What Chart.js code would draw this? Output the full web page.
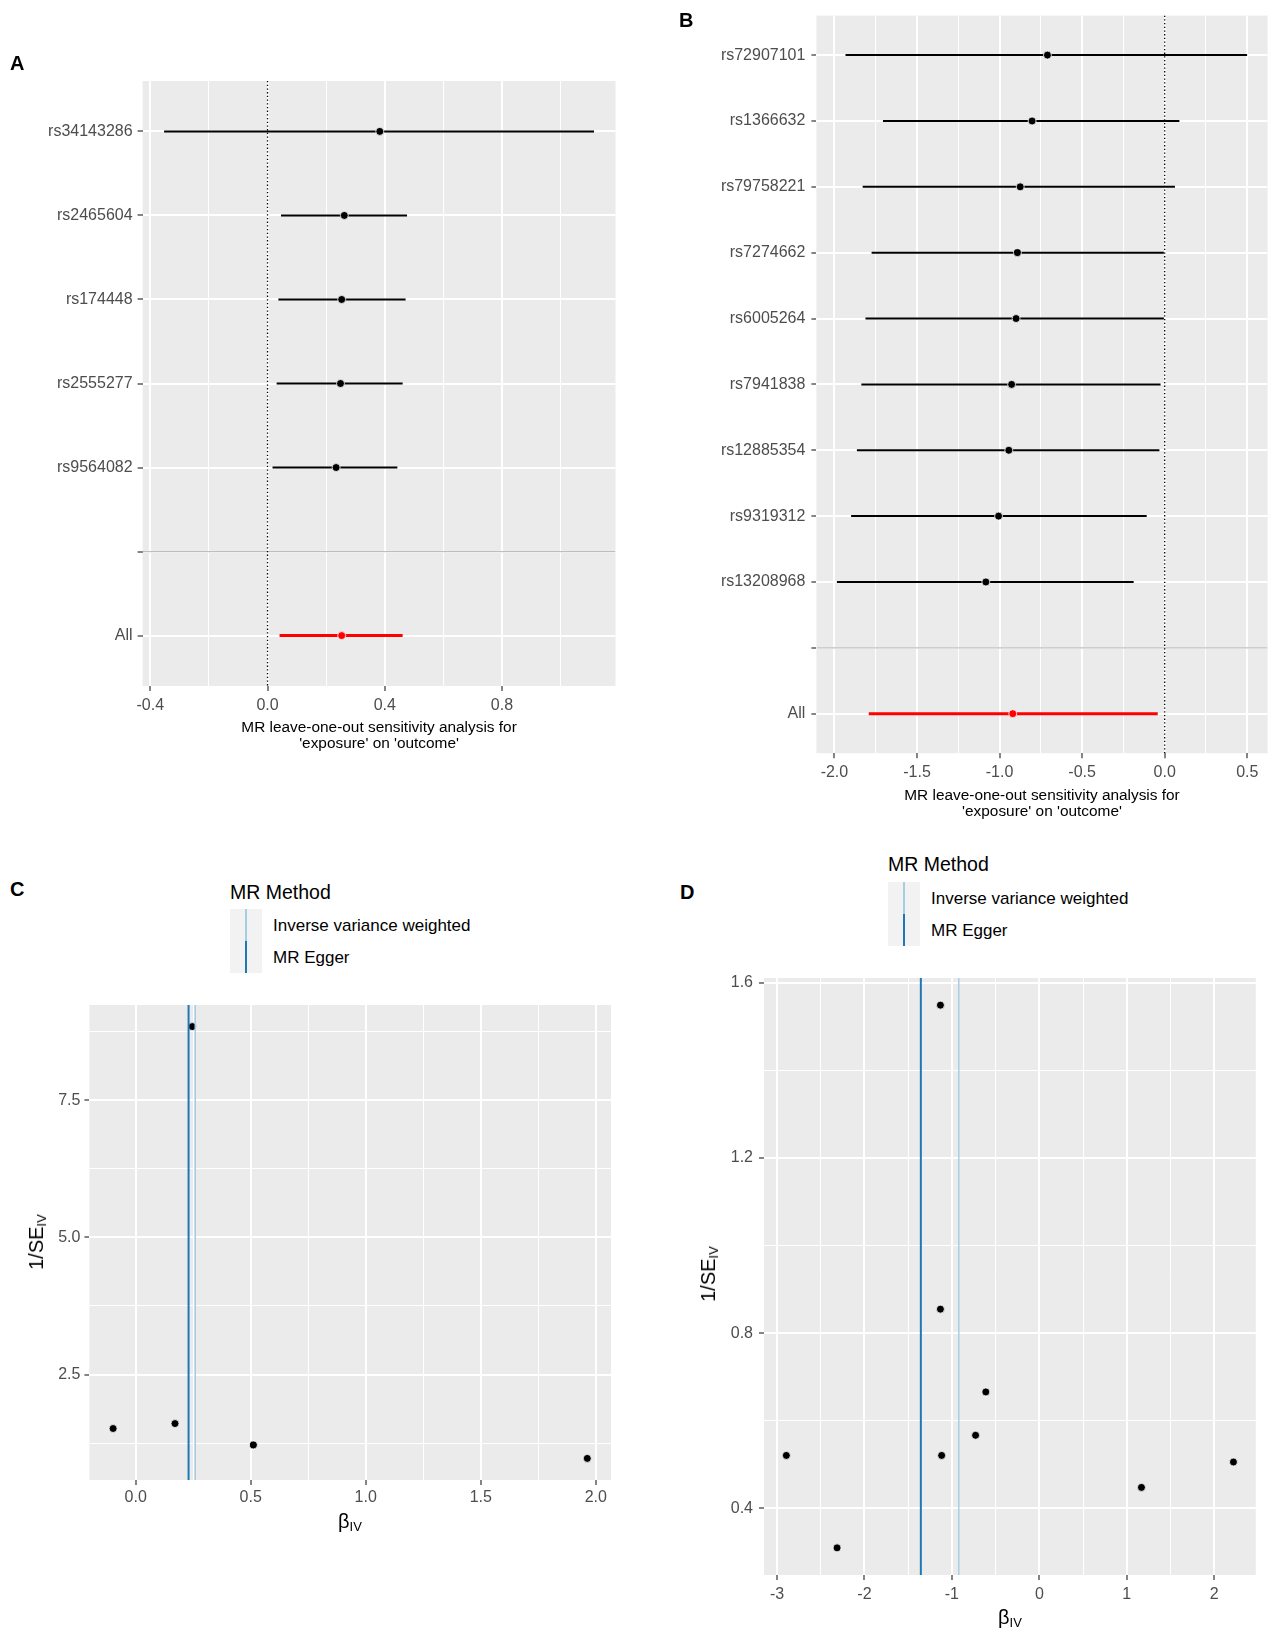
<!DOCTYPE html>
<html lang="en">
<head>
<meta charset="UTF-8">
<title>MR leave-one-out and funnel plots</title>
<script src="https://cdn.jsdelivr.net/npm/chart.js@4"></script>
<style>
    body {
        margin: 0;
        background: #fff;
        font-family: 'Liberation Sans', Arial, sans-serif;
        color: #000;
    }
    #page {
        position: relative;
        width: 1277px;
        height: 1637px;
        overflow: hidden;
    }
    canvas { position: absolute; }
    .tag {
        position: absolute;
        font-weight: bold;
        font-size: 20px;
        line-height: 20px;
    }
    .lgd-title {
        position: absolute;
        font-size: 19.5px;
        line-height: 20px;
        white-space: nowrap;
    }
    .lgd-key {
        position: absolute;
        width: 32px;
        height: 32px;
        background: #f2f2f2;
    }
    .lgd-key span {
        position: absolute;
        left: 15px;
        top: 0;
        bottom: 0;
    }
    .lgd-text {
        position: absolute;
        font-size: 17px;
        line-height: 18px;
        white-space: nowrap;
    }
    .axis-title {
        position: absolute;
        font-size: 20px;
        line-height: 22px;
        white-space: nowrap;
        transform: translate(-50%, -50%);
    }
    .axis-title.rot { transform: translate(-50%, -50%) rotate(-90deg); }
    .axis-title sub { font-size: 13px; vertical-align: -3px; }
</style>
</head>
<body>
<div id="page">
    <canvas id="chartA" width="640" height="780" style="left:0;top:0"></canvas>
    <canvas id="chartB" width="637" height="830" style="left:640px;top:0"></canvas>
    <canvas id="chartC" width="640" height="530" style="left:0;top:990px"></canvas>
    <canvas id="chartD" width="637" height="677" style="left:640px;top:960px"></canvas>

    <div class="tag" style="left:10px;top:53px">A</div>
    <div class="tag" style="left:679px;top:10px">B</div>
    <div class="tag" style="left:10px;top:879px">C</div>
    <div class="tag" style="left:680px;top:882px">D</div>

    <!-- legend C -->
    <div class="lgd-title" style="left:230px;top:882px">MR Method</div>
    <div class="lgd-key" style="left:230px;top:909px"><span style="width:1.5px;background:#a6cee3"></span></div>
    <div class="lgd-key" style="left:230px;top:941px"><span style="width:2px;background:#1f78b4"></span></div>
    <div class="lgd-text" style="left:273px;top:917px">Inverse variance weighted</div>
    <div class="lgd-text" style="left:273px;top:949px">MR Egger</div>

    <!-- legend D -->
    <div class="lgd-title" style="left:888px;top:854px">MR Method</div>
    <div class="lgd-key" style="left:888px;top:882px"><span style="width:1.5px;background:#a6cee3"></span></div>
    <div class="lgd-key" style="left:888px;top:914px"><span style="width:2px;background:#1f78b4"></span></div>
    <div class="lgd-text" style="left:931px;top:890px">Inverse variance weighted</div>
    <div class="lgd-text" style="left:931px;top:922px">MR Egger</div>

    <div class="axis-title rot" style="left:39px;top:1242px">1/SE<sub>IV</sub></div>
    <div class="axis-title" style="left:350px;top:1524px">β<sub>IV</sub></div>
    <div class="axis-title rot" style="left:711px;top:1274px">1/SE<sub>IV</sub></div>
    <div class="axis-title" style="left:1010px;top:1620px">β<sub>IV</sub></div>
</div>
<script>
    // ---- data ----
    // A: leave-one-out, positive effect
    const aSnps  = ['rs34143286', 'rs2465604', 'rs174448', 'rs2555277', 'rs9564082', '', 'All'];
    const aBeta  = [0.383, 0.262, 0.253, 0.249, 0.234, null, 0.253];
    const aLower = [-0.353, 0.046, 0.037, 0.031, 0.017, null, 0.041];
    const aUpper = [1.114, 0.476, 0.471, 0.461, 0.443, null, 0.461];
    const aXTicks  = [-0.4, 0.0, 0.4, 0.8];
    const aXLabels = ['-0.4', '0.0', '0.4', '0.8'];

    // B: leave-one-out, negative effect
    const bSnps  = ['rs72907101', 'rs1366632', 'rs79758221', 'rs7274662', 'rs6005264', 'rs7941838',
                    'rs12885354', 'rs9319312', 'rs13208968', '', 'All'];
    const bBeta  = [-0.710, -0.803, -0.875, -0.892, -0.900, -0.927, -0.944, -1.006, -1.083, null, -0.920];
    const bLower = [-1.933, -1.706, -1.829, -1.775, -1.812, -1.837, -1.864, -1.899, -1.985, null, -1.792];
    const bUpper = [0.499, 0.089, 0.062, -0.005, -0.005, -0.025, -0.032, -0.109, -0.188, null, -0.042];
    const bXTicks  = [-2.0, -1.5, -1.0, -0.5, 0.0, 0.5];
    const bXLabels = ['-2.0', '-1.5', '-1.0', '-0.5', '0.0', '0.5'];

    // C: funnel plot
    const cBeta  = [-0.098, 0.171, 0.246, 0.512, 1.963];
    const cInvSE = [1.517, 1.607, 8.842, 1.218, 0.972];
    const cMethods = [0.259, 0.230];            // IVW, MR Egger
    const cXTicks  = [0.0, 0.5, 1.0, 1.5, 2.0];
    const cXLabels = ['0.0', '0.5', '1.0', '1.5', '2.0'];
    const cYTicks  = [2.5, 5.0, 7.5];
    const cYLabels = ['2.5', '5.0', '7.5'];

    // D: funnel plot
    const dBeta  = [-2.893, -2.313, -1.131, -1.131, -0.612, -0.729, -1.117, 1.168, 2.220];
    const dInvSE = [0.521, 0.310, 1.549, 0.855, 0.666, 0.567, 0.521, 0.448, 0.506];
    const dMethods = [-0.921, -1.355];          // IVW, MR Egger
    const dXTicks  = [-3, -2, -1, 0, 1, 2];
    const dXLabels = ['-3', '-2', '-1', '0', '1', '2'];
    const dYTicks  = [0.4, 0.8, 1.2, 1.6];
    const dYLabels = ['0.4', '0.8', '1.2', '1.6'];

    const methodColors = ['#a6cee3', '#1f78b4'];
    const methodWidths = [1.5, 2];

    // ---- helpers ----
    const FONT = "'Liberation Sans', Arial, sans-serif";

    // ggplot default: 5% padding on each side of the data
    function expand(vals) {
        const lo = Math.min(...vals), hi = Math.max(...vals);
        const pad = (hi - lo) * 0.05;
        return [lo - pad, hi + pad];
    }

    function isMajor(major, v) {
        return major.some(m => Math.abs(m - v) < 1e-9);
    }

    // major breaks plus minor lines halfway between them
    function gridTicks(major, min, max, minor) {
        if (!minor) return major.map(v => ({ value: v }));
        const half = (major[1] - major[0]) / 2;
        const out = [];
        for (let k = -2; k <= major.length * 2 + 2; k++) {
            const v = Math.round((major[0] + k * half) * 1e9) / 1e9;
            if (v >= min && v <= max) out.push({ value: v });
        }
        return out;
    }

    function axis(o) {
        return {
            type: 'linear',
            min: o.min,
            max: o.max,
            reverse: !!o.reverse,
            afterBuildTicks: s => { s.ticks = gridTicks(o.major, o.min, o.max, o.minor !== false); },
            afterFit: s => {
                if (s.isHorizontal()) s.height = o.size; else s.width = o.size;
            },
            ticks: {
                autoSkip: false,
                maxRotation: 0,
                padding: o.pad,
                color: '#4d4d4d',
                font: { family: FONT, size: 16 },
                callback: v => {
                    const i = o.major.findIndex(m => Math.abs(m - v) < 1e-9);
                    return i < 0 ? '' : o.labels[i];
                }
            },
            grid: {
                color: '#ffffff',
                lineWidth: c => isMajor(o.major, c.tick.value) ? 2 : 1,
                tickLength: 5,
                tickWidth: 1.2,
                tickColor: c => isMajor(o.major, c.tick.value) ? '#333333' : 'rgba(0,0,0,0)'
            },
            border: { display: false },
            title: o.title ? {
                display: true,
                text: o.title,
                color: '#000',
                font: { family: FONT, size: 15.4, lineHeight: '15.5px' },
                padding: { top: 0, bottom: 0 }
            } : { display: false }
        };
    }

    const panelBg = {
        id: 'panelBg',
        beforeDraw(chart) {
            const { ctx, chartArea: a } = chart;
            ctx.save();
            ctx.fillStyle = '#ebebeb';
            ctx.fillRect(a.left, a.top, a.width, a.height);
            ctx.restore();
        }
    };

    function baseOptions(padding, scales) {
        return {
            responsive: false,
            animation: false,
            events: [],
            layout: { padding },
            plugins: { legend: { display: false }, tooltip: { enabled: false } },
            scales
        };
    }

    function forestChart(id, snps, beta, lower, upper, xTicks, xLabels, layout) {
        const n = snps.length;
        const xr = expand(lower.concat(upper).filter(v => v !== null));
        const rows = snps.map((s, i) => i).filter(i => beta[i] !== null);
        const blank = snps.indexOf('') + 1;
        const datasets = [];

        datasets.push({
            data: rows.map(i => ({ x: beta[i], y: i + 1 })),
            pointRadius: 4,
            pointBackgroundColor: rows.map(i => snps[i] === 'All' ? '#ff0000' : '#000000'),
            pointBorderColor: '#ffffff',
            pointBorderWidth: 0.8,
            order: 0
        });
        rows.forEach(i => datasets.push({
            data: [{ x: lower[i], y: i + 1 }, { x: upper[i], y: i + 1 }],
            showLine: true,
            pointRadius: 0,
            borderColor: snps[i] === 'All' ? '#ff0000' : '#000000',
            borderWidth: snps[i] === 'All' ? 3 : 2,
            order: 1
        }));
        datasets.push({
            data: [{ x: 0, y: 0.4 }, { x: 0, y: n + 0.6 }],
            showLine: true,
            pointRadius: 0,
            borderColor: '#000000',
            borderWidth: 1.3,
            borderDash: [1.3, 2.4],
            order: 2
        });
        datasets.push({
            data: [{ x: xr[0], y: blank }, { x: xr[1], y: blank }],
            showLine: true,
            pointRadius: 0,
            borderColor: '#bebebe',
            borderWidth: 1.3,
            order: 2
        });

        const yTicks = snps.map((s, i) => i + 1);
        return new Chart(document.getElementById(id), {
            type: 'scatter',
            data: { datasets },
            options: baseOptions(layout.padding, {
                x: axis({ min: xr[0], max: xr[1], major: xTicks, labels: xLabels,
                          size: layout.xSize, pad: 5,
                          title: ['MR leave-one-out sensitivity analysis for', "'exposure' on 'outcome'"] }),
                y: axis({ min: 0.4, max: n + 0.6, reverse: true, major: yTicks, labels: snps,
                          minor: false, size: layout.ySize, pad: layout.yPad })
            }),
            plugins: [panelBg]
        });
    }

    function funnelChart(id, beta, invSE, methods, xTicks, xLabels, yTicks, yLabels, layout) {
        const xr = expand(beta.concat(methods));
        const yr = expand(invSE);
        const datasets = [{
            data: beta.map((b, i) => ({ x: b, y: invSE[i] })),
            pointRadius: 4,
            pointBackgroundColor: '#000000',
            pointBorderColor: '#ffffff',
            pointBorderWidth: 0.8,
            order: 2
        }];
        methods.forEach((m, k) => datasets.push({
            data: [{ x: m, y: yr[0] }, { x: m, y: yr[1] }],
            showLine: true,
            pointRadius: 0,
            borderColor: methodColors[k],
            borderWidth: methodWidths[k],
            order: k === 1 ? 0 : 1
        }));

        return new Chart(document.getElementById(id), {
            type: 'scatter',
            data: { datasets },
            options: baseOptions(layout.padding, {
                x: axis({ min: xr[0], max: xr[1], major: xTicks, labels: xLabels,
                          size: layout.xSize, pad: layout.xPad }),
                y: axis({ min: yr[0], max: yr[1], major: yTicks, labels: yLabels,
                          size: layout.ySize, pad: layout.yPad })
            }),
            plugins: [panelBg]
        });
    }

    // ---- charts ----
    forestChart('chartA', aSnps, aBeta, aLower, aUpper, aXTicks, aXLabels, {
        padding: { left: 0, top: 81, right: 24.5, bottom: 29 },
        xSize: 65, ySize: 142.6, yPad: 5
    });
    forestChart('chartB', bSnps, bBeta, bLower, bUpper, bXTicks, bXLabels, {
        padding: { left: 0, top: 11.4, right: 9.4, bottom: 10.8 },
        xSize: 66, ySize: 176.4, yPad: 6
    });
    funnelChart('chartC', cBeta, cInvSE, cMethods, cXTicks, cXLabels, cYTicks, cYLabels, {
        padding: { left: 0, top: 15, right: 29, bottom: 10 },
        xSize: 30, ySize: 89.4, xPad: 3, yPad: 4
    });
    funnelChart('chartD', dBeta, dInvSE, dMethods, dXTicks, dXLabels, dYTicks, dYLabels, {
        padding: { left: 0, top: 18, right: 21.2, bottom: 22 },
        xSize: 40, ySize: 124, xPad: 4.5, yPad: 6
    });
</script>
</body>
</html>
